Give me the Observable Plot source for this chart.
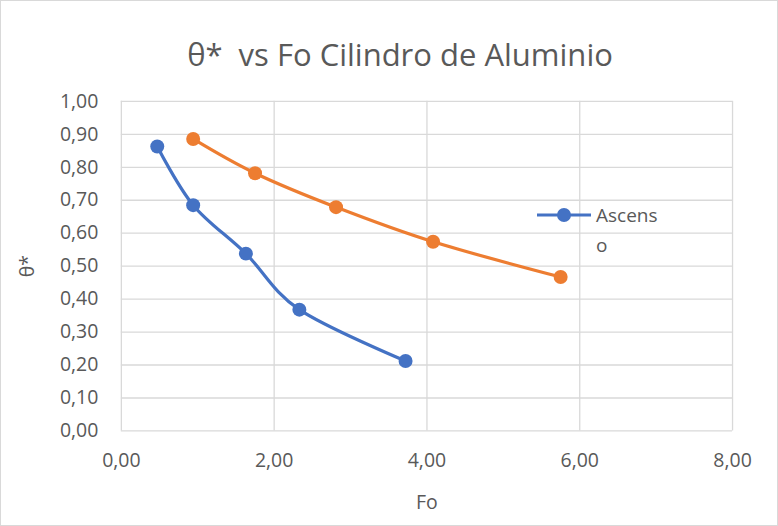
<!DOCTYPE html>
<html><head><meta charset="utf-8">
<script src="https://cdn.jsdelivr.net/npm/d3@7"></script>
<script src="https://cdn.jsdelivr.net/npm/@observablehq/plot@0.6"></script>
<style>
html,body{margin:0;padding:0;background:#fff;}
#wrap{position:relative;width:776px;height:524px;border:1px solid #d9d9d9;overflow:hidden;font-family:"Open Sans",Lato,sans-serif;color:#595959;}
#chart{position:absolute;left:-1px;top:-1px;}
#title{position:absolute;left:0;width:798px;top:32px;text-align:center;font-size:31px;color:#595959;white-space:pre;}
#legend{position:absolute;left:534px;top:200px;font-size:19px;color:#595959;line-height:30px;}
#legend svg{position:absolute;left:0;top:2px;}
#legend .txt{position:absolute;left:61px;top:-1px;width:70px;}
</style></head>
<body>
<div id="wrap">
  <div id="chart"></div>
  <div id="title">θ*  vs Fo Cilindro de Aluminio</div>
  <div id="legend"></div>
</div>
<script>
const title = "θ*  vs Fo Cilindro de Aluminio";
const seriesNames = ["Ascenso", "Descenso"];
const foAscenso = [0.47, 0.94, 1.63, 2.33, 3.72];
const thetaAscenso = [0.863, 0.685, 0.538, 0.368, 0.212];
const foDescenso = [0.94, 1.75, 2.81, 4.08, 5.75];
const thetaDescenso = [0.886, 0.782, 0.679, 0.574, 0.467];
const xTicks = [0, 2, 4, 6, 8];
const yTicks = [0, 0.1, 0.2, 0.3, 0.4, 0.5, 0.6, 0.7, 0.8, 0.9, 1.0];
const colors = ["#4472C4", "#ED7D31"];

const data = [
  ...foAscenso.map((x, i) => ({serie: seriesNames[0], fo: x, theta: thetaAscenso[i]})),
  ...foDescenso.map((x, i) => ({serie: seriesNames[1], fo: x, theta: thetaDescenso[i]}))
];
const fmt = v => d3.format(".2f")(v).replace(".", ",");

const chart = Plot.plot({
  width: 778,
  height: 526,
  marginLeft: 121,
  marginRight: 45,
  marginTop: 101,
  marginBottom: 95,
  style: {fontFamily: "'Open Sans', Lato, sans-serif", fontSize: "19.5px", color: "#595959", background: "transparent"},
  x: {domain: [0, 8], ticks: xTicks, tickFormat: fmt},
  y: {domain: [0, 1], ticks: yTicks, tickFormat: fmt},
  color: {domain: seriesNames, range: colors},
  marks: [
    Plot.gridX(xTicks, {stroke: "#d9d9d9", strokeOpacity: 1, strokeWidth: 1.3}),
    Plot.gridY(yTicks, {stroke: "#d9d9d9", strokeOpacity: 1, strokeWidth: 1.3}),
    Plot.axisX(xTicks, {tickSize: 0, tickPadding: 22, tickFormat: fmt, label: "Fo", labelAnchor: "center", labelArrow: "none", labelOffset: 78, fill: "#595959"}),
    Plot.axisY(yTicks, {tickSize: 0, tickPadding: 23, tickFormat: fmt, label: "θ*", labelAnchor: "center", labelArrow: "none", labelOffset: 101, fill: "#595959"}),
    Plot.line(data, {x: "fo", y: "theta", z: "serie", stroke: "serie", strokeWidth: 3.2, curve: "cardinal"}),
    Plot.dot(data, {x: "fo", y: "theta", fill: "serie", r: 7})
  ]
});
document.getElementById("chart").appendChild(chart);

const leg = document.getElementById("legend");
leg.innerHTML = `<svg width="58" height="24"><line x1="2" y1="12" x2="56" y2="12" stroke="${colors[0]}" stroke-width="3.2"/><circle cx="29" cy="12" r="7" fill="${colors[0]}"/></svg><div class="txt">Ascens<br>o</div>`;
</script>
</body></html>
